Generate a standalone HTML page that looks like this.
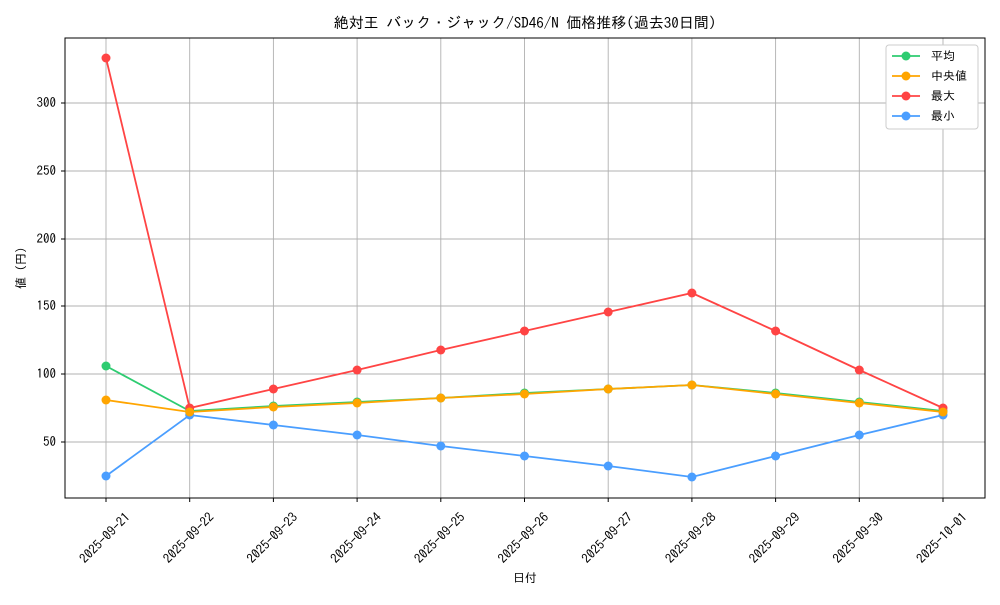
<!DOCTYPE html>
<html><head><meta charset="utf-8"><style>
body{margin:0;background:#fff}
svg text{font-family:"IPAGothic","Liberation Sans","Noto Sans CJK JP",sans-serif;fill:#000}
</style></head><body>
<svg width="1000" height="600" viewBox="0 0 1000 600" xmlns="http://www.w3.org/2000/svg">
<rect width="1000" height="600" fill="#fff"/>
<text x="525" y="28" font-size="15" text-anchor="middle">絶対王 バック・ジャック/SD46/N 価格推移(過去30日間)</text>
<g stroke="#b0b0b0" stroke-width="0.9">
<line x1="106" y1="38" x2="106" y2="498"/><line x1="189.7" y1="38" x2="189.7" y2="498"/><line x1="273.4" y1="38" x2="273.4" y2="498"/><line x1="357.1" y1="38" x2="357.1" y2="498"/><line x1="440.8" y1="38" x2="440.8" y2="498"/><line x1="524.5" y1="38" x2="524.5" y2="498"/><line x1="608.2" y1="38" x2="608.2" y2="498"/><line x1="691.9" y1="38" x2="691.9" y2="498"/><line x1="775.6" y1="38" x2="775.6" y2="498"/><line x1="859.3" y1="38" x2="859.3" y2="498"/><line x1="943" y1="38" x2="943" y2="498"/>
<line x1="65" y1="442" x2="985" y2="442"/><line x1="65" y1="374" x2="985" y2="374"/><line x1="65" y1="306" x2="985" y2="306"/><line x1="65" y1="239" x2="985" y2="239"/><line x1="65" y1="171" x2="985" y2="171"/><line x1="65" y1="103" x2="985" y2="103"/>
</g>
<rect x="65" y="38" width="920" height="460" fill="none" stroke="#000" stroke-width="1"/>
<g font-size="13" text-anchor="end">
<text x="56" y="446">50</text><text x="56" y="378">100</text><text x="56" y="310">150</text><text x="56" y="243">200</text><text x="56" y="175">250</text><text x="56" y="107">300</text>
</g>
<g stroke="#000"><line x1="61" y1="442" x2="65" y2="442"/><line x1="61" y1="374" x2="65" y2="374"/><line x1="61" y1="306" x2="65" y2="306"/><line x1="61" y1="239" x2="65" y2="239"/><line x1="61" y1="171" x2="65" y2="171"/><line x1="61" y1="103" x2="65" y2="103"/>
<line x1="106" y1="498" x2="106" y2="502"/><line x1="189.7" y1="498" x2="189.7" y2="502"/><line x1="273.4" y1="498" x2="273.4" y2="502"/><line x1="357.1" y1="498" x2="357.1" y2="502"/><line x1="440.8" y1="498" x2="440.8" y2="502"/><line x1="524.5" y1="498" x2="524.5" y2="502"/><line x1="608.2" y1="498" x2="608.2" y2="502"/><line x1="691.9" y1="498" x2="691.9" y2="502"/><line x1="775.6" y1="498" x2="775.6" y2="502"/><line x1="859.3" y1="498" x2="859.3" y2="502"/><line x1="943" y1="498" x2="943" y2="502"/></g>
<g font-size="13" text-anchor="middle">
<text transform="translate(108,541) rotate(-45)">2025-09-21</text>
<text transform="translate(191.7,541) rotate(-45)">2025-09-22</text>
<text transform="translate(275.4,541) rotate(-45)">2025-09-23</text>
<text transform="translate(359.1,541) rotate(-45)">2025-09-24</text>
<text transform="translate(442.8,541) rotate(-45)">2025-09-25</text>
<text transform="translate(526.5,541) rotate(-45)">2025-09-26</text>
<text transform="translate(610.2,541) rotate(-45)">2025-09-27</text>
<text transform="translate(693.9,541) rotate(-45)">2025-09-28</text>
<text transform="translate(777.6,541) rotate(-45)">2025-09-29</text>
<text transform="translate(861.3,541) rotate(-45)">2025-09-30</text>
<text transform="translate(945,541) rotate(-45)">2025-10-01</text>
</g>
<text x="525" y="582" font-size="12" text-anchor="middle">日付</text>
<text transform="translate(25,268) rotate(-90)" font-size="12" text-anchor="middle">値 (円)</text>
<g fill="none" stroke-width="1.8">
<polyline stroke="#2ecc71" points="106,366 189.7,411 273.4,406 357.1,402 440.8,398 524.5,393 608.2,389 691.9,385 775.6,393 859.3,402 943,411"/>
<polyline stroke="#ff4444" points="106,58 189.7,408 273.4,389 357.1,370 440.8,350 524.5,331 608.2,312 691.9,293 775.6,331 859.3,370 943,408"/>
<polyline stroke="#4a9eff" points="106,476 189.7,415 273.4,425 357.1,435 440.8,446 524.5,456 608.2,466 691.9,477 775.6,456 859.3,435 943,415"/>
<polyline stroke="#ffa500" points="106,400 189.7,412 273.4,407 357.1,403 440.8,398 524.5,394 608.2,389 691.9,385 775.6,394 859.3,403 943,412"/>
</g>
<g fill="#2ecc71"><circle cx="106" cy="366" r="4.5"/><circle cx="189.7" cy="411" r="4.5"/><circle cx="273.4" cy="406" r="4.5"/><circle cx="357.1" cy="402" r="4.5"/><circle cx="440.8" cy="398" r="4.5"/><circle cx="524.5" cy="393" r="4.5"/><circle cx="608.2" cy="389" r="4.5"/><circle cx="691.9" cy="385" r="4.5"/><circle cx="775.6" cy="393" r="4.5"/><circle cx="859.3" cy="402" r="4.5"/><circle cx="943" cy="411" r="4.5"/></g>
<g fill="#ff4444"><circle cx="106" cy="58" r="4.5"/><circle cx="189.7" cy="408" r="4.5"/><circle cx="273.4" cy="389" r="4.5"/><circle cx="357.1" cy="370" r="4.5"/><circle cx="440.8" cy="350" r="4.5"/><circle cx="524.5" cy="331" r="4.5"/><circle cx="608.2" cy="312" r="4.5"/><circle cx="691.9" cy="293" r="4.5"/><circle cx="775.6" cy="331" r="4.5"/><circle cx="859.3" cy="370" r="4.5"/><circle cx="943" cy="408" r="4.5"/></g>
<g fill="#4a9eff"><circle cx="106" cy="476" r="4.5"/><circle cx="189.7" cy="415" r="4.5"/><circle cx="273.4" cy="425" r="4.5"/><circle cx="357.1" cy="435" r="4.5"/><circle cx="440.8" cy="446" r="4.5"/><circle cx="524.5" cy="456" r="4.5"/><circle cx="608.2" cy="466" r="4.5"/><circle cx="691.9" cy="477" r="4.5"/><circle cx="775.6" cy="456" r="4.5"/><circle cx="859.3" cy="435" r="4.5"/><circle cx="943" cy="415" r="4.5"/></g>
<g fill="#ffa500"><circle cx="106" cy="400" r="4.5"/><circle cx="189.7" cy="412" r="4.5"/><circle cx="273.4" cy="407" r="4.5"/><circle cx="357.1" cy="403" r="4.5"/><circle cx="440.8" cy="398" r="4.5"/><circle cx="524.5" cy="394" r="4.5"/><circle cx="608.2" cy="389" r="4.5"/><circle cx="691.9" cy="385" r="4.5"/><circle cx="775.6" cy="394" r="4.5"/><circle cx="859.3" cy="403" r="4.5"/><circle cx="943" cy="412" r="4.5"/></g>
<rect x="886" y="45" width="92" height="84" rx="3" fill="#fff" stroke="#ccc"/>
<g stroke-width="1.8">
<line x1="892" y1="56" x2="920" y2="56" stroke="#2ecc71"/><circle cx="906" cy="56" r="4.5" fill="#2ecc71"/>
<line x1="892" y1="76" x2="920" y2="76" stroke="#ffa500"/><circle cx="906" cy="76" r="4.5" fill="#ffa500"/>
<line x1="892" y1="96" x2="920" y2="96" stroke="#ff4444"/><circle cx="906" cy="96" r="4.5" fill="#ff4444"/>
<line x1="892" y1="116" x2="920" y2="116" stroke="#4a9eff"/><circle cx="906" cy="116" r="4.5" fill="#4a9eff"/>
</g>
<g font-size="12">
<text x="931" y="60">平均</text><text x="931" y="80"> 中央値</text><text x="931" y="100">最大</text><text x="931" y="120">最小</text>
</g>
</svg>
</body></html>
